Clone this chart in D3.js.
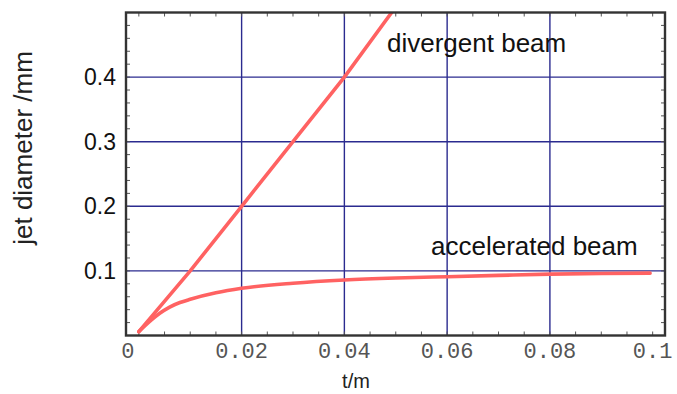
<!DOCTYPE html>
<html>
<head>
<meta charset="utf-8">
<script src="https://cdn.jsdelivr.net/npm/d3@7"></script>
<style>
  body { margin: 0; background: #fff; }
  svg { display: block; }
</style>
</head>
<body>
<script>
var width = 677;
var height = 394;

// data
var divergentT = [0, 0.01, 0.02, 0.03, 0.04, 0.0492];
var divergentD = [0.006, 0.1, 0.2, 0.3, 0.4, 0.5];
var acceleratedT = [0, 0.002, 0.004, 0.006, 0.008, 0.01, 0.015, 0.02, 0.03, 0.04, 0.05, 0.06, 0.07, 0.08, 0.09, 0.0995];
var acceleratedD = [0.006, 0.021, 0.034, 0.044, 0.051, 0.056, 0.066, 0.073, 0.081, 0.086, 0.089, 0.091, 0.093, 0.095, 0.096, 0.0965];
var xTicks = [0, 0.02, 0.04, 0.06, 0.08, 0.1];
var xTickLabels = ["0", "0.02", "0.04", "0.06", "0.08", "0.1"];
var yTicks = [0.1, 0.2, 0.3, 0.4];
var yTickLabels = ["0.1", "0.2", "0.3", "0.4"];
var xGrid = [0.02, 0.04, 0.06, 0.08];
var yGrid = [0.1, 0.2, 0.3, 0.4];

// plot frame (note: "top" is taken by window.top, so use other names)
var pLeft = 126, pRight = 665, pTop = 12.5, pBottom = 335.5;

var x = d3.scaleLinear().domain([-0.0025, 0.1024]).range([pLeft, pRight]);
var y = d3.scaleLinear().domain([0, 0.5]).range([pBottom, pTop]);

var svg = d3.select("body").append("svg")
  .attr("width", width)
  .attr("height", height);

svg.append("defs").append("clipPath")
  .attr("id", "plotclip")
  .append("rect")
  .attr("x", pLeft).attr("y", pTop)
  .attr("width", pRight - pLeft).attr("height", pBottom - pTop);

// grid
svg.append("g").selectAll("line")
  .data(xGrid).enter().append("line")
  .attr("x1", function(d) { return x(d); })
  .attr("x2", function(d) { return x(d); })
  .attr("y1", pTop).attr("y2", pBottom)
  .attr("stroke", "#2b2b8f").attr("stroke-width", 1.4);

svg.append("g").selectAll("line")
  .data(yGrid).enter().append("line")
  .attr("y1", function(d) { return y(d); })
  .attr("y2", function(d) { return y(d); })
  .attr("x1", pLeft).attr("x2", pRight)
  .attr("stroke", "#2b2b8f").attr("stroke-width", 1.4);

// minor ticks on the frame, pointing inward
var xMinor = d3.range(0, 0.1001, 0.005);
var yMinor = d3.range(0.02, 0.4801, 0.02);
var ticks = svg.append("g").attr("stroke", "#555").attr("stroke-width", 1);
xMinor.forEach(function(t) {
  ticks.append("line").attr("x1", x(t)).attr("x2", x(t)).attr("y1", pBottom).attr("y2", pBottom - 4);
  ticks.append("line").attr("x1", x(t)).attr("x2", x(t)).attr("y1", pTop).attr("y2", pTop + 4);
});
yMinor.forEach(function(v) {
  ticks.append("line").attr("y1", y(v)).attr("y2", y(v)).attr("x1", pLeft).attr("x2", pLeft + 4);
  ticks.append("line").attr("y1", y(v)).attr("y2", y(v)).attr("x1", pRight).attr("x2", pRight - 4);
});

// curves
var line = d3.line()
  .x(function(d) { return x(d[0]); })
  .y(function(d) { return y(d[1]); });

var divergent = divergentT.map(function(t, i) { return [t, divergentD[i]]; });
var accelerated = acceleratedT.map(function(t, i) { return [t, acceleratedD[i]]; });

var curves = svg.append("g").attr("clip-path", "url(#plotclip)");
curves.append("path")
  .attr("d", line(divergent))
  .attr("fill", "none")
  .attr("stroke", "#ff6262")
  .attr("stroke-width", 3.6)
  .attr("stroke-linecap", "round");
curves.append("path")
  .attr("d", line.curve(d3.curveMonotoneX)(accelerated))
  .attr("fill", "none")
  .attr("stroke", "#ff6262")
  .attr("stroke-width", 3.6)
  .attr("stroke-linecap", "round");

// frame
svg.append("rect")
  .attr("x", pLeft).attr("y", pTop)
  .attr("width", pRight - pLeft).attr("height", pBottom - pTop)
  .attr("fill", "none")
  .attr("stroke", "#333")
  .attr("stroke-width", 2.4);

// tick labels
svg.append("g").selectAll("text")
  .data(xTicks).enter().append("text")
  .attr("x", function(d, i) { return x(d) + (i == 0 ? -11 : 0); })
  .attr("y", 358)
  .attr("text-anchor", "middle")
  .style("font-family", "'Liberation Mono', 'DejaVu Sans Mono', monospace")
  .style("font-size", "22px")
  .attr("fill", "#555")
  .text(function(d, i) { return xTickLabels[i]; });

svg.append("g").selectAll("text")
  .data(yTicks).enter().append("text")
  .attr("x", 116)
  .attr("y", function(d) { return y(d) + 8; })
  .attr("text-anchor", "end")
  .style("font-family", "'Liberation Sans', Arial, sans-serif")
  .style("font-size", "23px")
  .attr("fill", "#111")
  .text(function(d, i) { return yTickLabels[i]; });

// axis titles
svg.append("text")
  .attr("x", 356).attr("y", 388)
  .attr("text-anchor", "middle")
  .style("font-family", "'Liberation Sans', Arial, sans-serif")
  .style("font-size", "20px")
  .attr("fill", "#222")
  .text("t/m");

svg.append("text")
  .attr("transform", "translate(32,148) rotate(-90)")
  .attr("text-anchor", "middle")
  .style("font-family", "'Liberation Sans', Arial, sans-serif")
  .style("font-size", "26px")
  .attr("fill", "#222")
  .text("jet diameter /mm");

// curve labels
svg.append("text")
  .attr("x", 387).attr("y", 52)
  .style("font-family", "'Liberation Sans', Arial, sans-serif")
  .style("font-size", "26px")
  .attr("fill", "#111")
  .text("divergent beam");

svg.append("text")
  .attr("x", 431).attr("y", 255)
  .style("font-family", "'Liberation Sans', Arial, sans-serif")
  .style("font-size", "26px")
  .attr("fill", "#111")
  .text("accelerated beam");
</script>
</body>
</html>
